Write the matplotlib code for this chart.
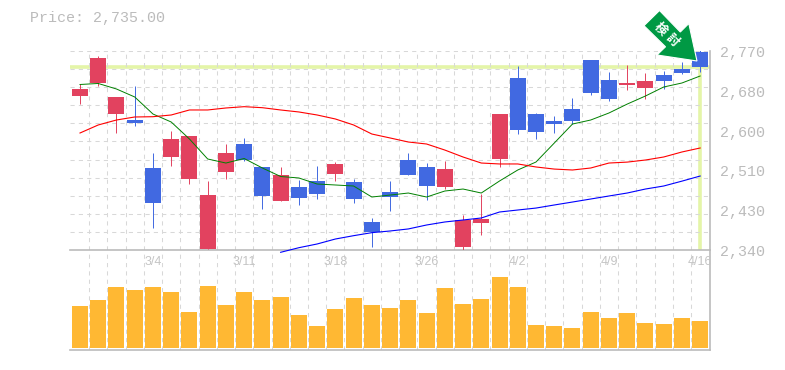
import numpy as np
import matplotlib
matplotlib.use('Agg')
import matplotlib.pyplot as plt
from matplotlib.patches import Polygon

# daily prices, 35 sessions
opens = [2672.4, 2700.4, 2633.6, 2620.7, 2517.3, 2541, 2493.6, 2342.8, 2508.7, 2569,
         2519.5, 2446, 2476, 2489, 2504, 2487, 2401, 2465.6, 2534.5, 2519.5,
         2476, 2347, 2399, 2536.7, 2711, 2633.6, 2618.6, 2644.5, 2750, 2707,
         2697, 2689.7, 2717.6, 2730.5, 2767]
closes = [2687.5, 2754.3, 2670.3, 2614.3, 2442, 2579.8, 2586.2, 2459, 2549.6, 2534.5,
          2457, 2502, 2452.7, 2461, 2526, 2450.5, 2379.4, 2455, 2502, 2478.5,
          2515, 2405, 2407.4, 2633.6, 2599, 2595, 2612, 2618.6, 2679, 2666,
          2700.4, 2704.7, 2704.7, 2722, 2735]
highs = [2697.6, 2758.6, 2670.3, 2694, 2549.6, 2597, 2586.2, 2489, 2569, 2582,
         2519.5, 2519.5, 2491, 2521.6, 2530, 2493.6, 2409.6, 2489, 2549.6, 2528,
         2532, 2416, 2461, 2633.6, 2737, 2636, 2629, 2668, 2750, 2724,
         2739, 2722, 2726, 2745.6, 2771.5]
lows = [2655, 2694, 2592.7, 2607.8, 2388, 2521.6, 2482.9, 2342, 2493.6, 2532,
        2429, 2446, 2437.6, 2450.5, 2489, 2442, 2347, 2424.7, 2502, 2448,
        2472, 2340, 2373, 2519.5, 2590.5, 2580, 2592.7, 2612, 2674.6, 2661.6,
        2685, 2666, 2687.5, 2720, 2724]
volume = [42, 48, 61, 58, 61, 56, 36, 62, 43, 56, 48, 51, 33, 22, 39, 50, 43, 40,
          48, 35, 60, 44, 49, 71, 61, 23, 22, 20, 36, 30, 35, 25, 24, 30, 27]

# moving averages
ma_short = [2697.2, 2699.4, 2687.5, 2670.3, 2633.6, 2616.4, 2579.8, 2536.7, 2528, 2537.8,
            2517.3, 2499, 2495.8, 2482.8, 2480.7, 2478.5, 2454.8, 2459, 2463.4, 2454.8,
            2467.7, 2472, 2463.4, 2489.3, 2513, 2530.2, 2571, 2612, 2620.7, 2635.8,
            2655, 2672.4, 2691.8, 2700.4, 2715.5]
ma_mid = [2592.7, 2610, 2620.7, 2627.2, 2627.8, 2631.5, 2642.3, 2642.3, 2646.6, 2649.4,
          2647.2, 2642.3, 2638, 2631.5, 2622.9, 2610, 2590.5, 2582, 2573.3, 2569,
          2556, 2541, 2528, 2526, 2526, 2519.5, 2515, 2513, 2517.3, 2528,
          2530, 2534.5, 2541, 2551.8, 2560.4]
ma_long = [2335.7, 2345.6, 2353.6, 2364.3, 2371.5, 2378, 2381.6, 2386, 2394.5, 2401,
           2405.3, 2409.6, 2422.5, 2426.8, 2431, 2437.6, 2444, 2450.5, 2457, 2463.4,
           2472, 2478.5, 2489, 2500]

price_now = 2735
price_ticks = [2770, 2684, 2598, 2512, 2426, 2340]
price_labels = ['2,770', '2,680', '2,600', '2,510', '2,430', '2,340']
date_pos = [4, 9, 14, 19, 24, 29, 34]
date_labels = ['3/4', '3/11', '3/18', '3/26', '4/2', '4/9', '4/16']

W, H = 785, 370
RED = '#e2425f'
BLUE = '#4169e1'
ORANGE = '#ffb833'
YELLOW = '#e4f5a8'
GRID = '#d8d8d8'
GRAY = '#bbbbbb'
MONO = 'Liberation Mono'


def px_axes(fig, x0, x1, ytop, ybot):
    return fig.add_axes([x0 / W, 1 - ybot / H, (x1 - x0) / W, (ybot - ytop) / H])


fig = plt.figure(figsize=(W / 100, H / 100), dpi=100, facecolor='white')
x = np.arange(35)
xlim = (-0.532, 34.556)

# volume panel
ax2 = px_axes(fig, 70.3, 710.3, 250.3, 350)
ax2.bar(x, volume, width=0.877, color=ORANGE, zorder=3)
ax2.set_xlim(xlim)
ax2.set_ylim(-2, 97.7)
ax2.set_xticks(x[:-1] + 0.5)
ax2.set_yticks([])
ax2.tick_params(length=0, labelbottom=False)
ax2.grid(axis='x', color=GRID, lw=0.75, ls=(0, (4, 4)), zorder=0)
for s in ['top', 'left']:
    ax2.spines[s].set_visible(False)
for s in ['bottom', 'right']:
    ax2.spines[s].set_color(GRAY)
    ax2.spines[s].set_linewidth(1.2)

# price panel
ax = px_axes(fig, 70.3, 710.3, 50.7, 250.3)
ax.patch.set_alpha(0)
ax.set_xlim(xlim)
ax.set_ylim(2340, 2770)
ax.set_xticks(x[:-1] + 0.5)
ax.set_yticks(np.linspace(2340, 2770, 12))
ax.tick_params(length=0, labelbottom=False, labelleft=False)
ax.grid(color=GRID, lw=0.75, ls=(0, (4, 4)), zorder=0)
for s in ['top', 'left']:
    ax.spines[s].set_visible(False)
for s in ['bottom', 'right']:
    ax.spines[s].set_color(GRAY)
    ax.spines[s].set_linewidth(1.2)

# current price marker
ax.axhline(price_now, color=YELLOW, lw=2.6, zorder=1)
ax.plot([x[-1], x[-1]], [2340, price_now], color=YELLOW, lw=2.6, zorder=1)

for i in x:
    col = RED if closes[i] >= opens[i] else BLUE
    ax.plot([i, i], [lows[i], highs[i]], color=col, lw=0.7, zorder=3,
            solid_capstyle='butt')
    ax.bar(i, abs(closes[i] - opens[i]), bottom=min(opens[i], closes[i]),
           width=0.877, color=col, zorder=3)

ax.plot(x, ma_short, color='#008000', lw=0.7, zorder=4)
ax.plot(x, ma_mid, color='#ff0000', lw=0.8, zorder=4)
ax.plot(x[11:], ma_long, color='#0000ff', lw=0.8, zorder=4, clip_on=False)

# arrow sits on top in figure pixels
arrow = [(659.5, 10.5), (680.3, 32), (688.8, 23.5), (697, 61), (657, 55), (665.5, 46.8), (644, 25.7)]
fig.add_artist(Polygon([(a / W, 1 - b / H) for a, b in arrow], closed=True,
                       transform=fig.transFigure, facecolor='#009944',
                       edgecolor='white', lw=0.8, zorder=10))
fig.text(660 / W, 1 - 29 / H, '検', color='white', fontsize=9, rotation=-45,
         ha='center', va='center', family='Noto Sans CJK JP', weight='bold', zorder=11)
fig.text(672 / W, 1 - 40 / H, '討', color='white', fontsize=9, rotation=-45,
         ha='center', va='center', family='Noto Sans CJK JP', weight='bold', zorder=11)

# labels
fig.text(30 / W, 1 - 18 / H, 'Price: 2,735.00', color=GRAY, fontsize=10.8,
         family=MONO, ha='left', va='center')
for p, lab in zip(price_ticks, price_labels):
    ax.annotate(lab, xy=(1, p), xycoords=ax.get_yaxis_transform(), xytext=(10, -2),
                textcoords='offset pixels', color=GRAY, fontsize=10.8, family=MONO,
                ha='left', va='center', annotation_clip=False)
for p, lab in zip(date_pos, date_labels):
    ax.annotate(lab, xy=(p, 0), xycoords=ax.get_xaxis_transform(), xytext=(0, -12),
                textcoords='offset pixels', color='#c4c4c4', fontsize=9,
                family='Liberation Sans', ha='center', va='center', annotation_clip=False)

fig.savefig('out.png', dpi=100)
